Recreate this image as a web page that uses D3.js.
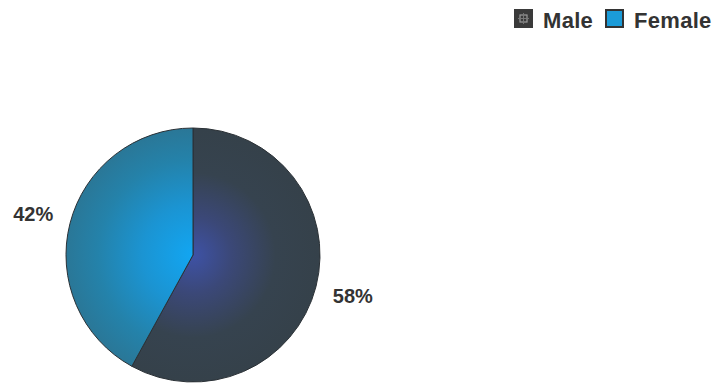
<!DOCTYPE html>
<html>
<head>
<meta charset="utf-8">
<script src="https://cdn.jsdelivr.net/npm/d3@7"></script>
<style>
  html, body { margin: 0; padding: 0; background: #fff; }
  svg { display: block; }
  text { font-family: "Liberation Sans", Arial, sans-serif; font-weight: bold; fill: #333; }
</style>
</head>
<body>
<svg id="chart" width="717" height="383"></svg>
<script>
// Gender split
const categories = ["Male", "Female"];
const values = [58, 42];
const labels = ["58%", "42%"];

const W = 717, H = 383;
const cx = 193, cy = 255, R = 127, labelR = 165;

const svg = d3.select("#chart");
const defs = svg.append("defs");

// Radial shading per slice: bright near the centre, deeper at the rim
const shades = {
  Male:   [["0%", "#3e52a6"], ["30%", "#3b4878"], ["65%", "#36434f"], ["100%", "#35414a"]],
  Female: [["0%", "#12a6f2"], ["40%", "#1b94d2"], ["75%", "#2482aa"], ["100%", "#2a7797"]]
};
categories.forEach(c => {
  const g = defs.append("radialGradient")
    .attr("id", "grad-" + c)
    .attr("gradientUnits", "userSpaceOnUse")
    .attr("cx", 0).attr("cy", 0).attr("r", R);
  shades[c].forEach(([o, col]) => g.append("stop").attr("offset", o).attr("stop-color", col));
});

const pie = d3.pie().sort(null).value(d => d.value);
const data = categories.map((c, i) => ({ name: c, value: values[i], label: labels[i] }));
const arcs = pie(data);
const arc = d3.arc().innerRadius(0).outerRadius(R);
const labelArc = d3.arc().innerRadius(labelR).outerRadius(labelR);

const g = svg.append("g").attr("transform", `translate(${cx},${cy})`);

g.selectAll("path.slice")
  .data(arcs)
  .join("path")
  .attr("class", "slice")
  .attr("d", arc)
  .attr("fill", d => `url(#grad-${d.data.name})`)
  .attr("stroke", "#2b3136")
  .attr("stroke-width", 1);

g.selectAll("text.pct")
  .data(arcs)
  .join("text")
  .attr("class", "pct")
  .attr("transform", d => `translate(${labelArc.centroid(d)})`)
  .attr("text-anchor", "middle")
  .attr("dy", "0.36em")
  .style("font-size", "20px")
  .text(d => d.data.label);

// Legend, top right
const legendItems = [
  { name: "Male", x: 514, fill: "#3a3a3a", stroke: "#3a3a3a" },
  { name: "Female", x: 605, fill: "#1b9bd8", stroke: "#333" }
];
const legend = svg.append("g").attr("class", "legend");
legendItems.forEach(it => {
  legend.append("rect")
    .attr("x", it.x + 1).attr("y", 10)
    .attr("width", 17).attr("height", 17)
    .attr("fill", it.fill)
    .attr("stroke", it.stroke)
    .attr("stroke-width", 2);
  if (it.name === "Male") {
    // small light glyph inside the dark swatch
    legend.append("rect").attr("x", it.x + 6).attr("y", 15).attr("width", 7).attr("height", 7)
      .attr("fill", "none").attr("stroke", "#9a9a9a").attr("stroke-width", 1.2);
    legend.append("path")
      .attr("d", `M${it.x + 4},18.5 H${it.x + 15} M${it.x + 9.5},13 V24`)
      .attr("stroke", "#777").attr("stroke-width", 1);
  }
  legend.append("text")
    .attr("x", it.x + 29).attr("y", 28)
    .style("font-size", "22px")
    .style("letter-spacing", "0.3px")
    .text(it.name);
});
</script>
</body>
</html>
